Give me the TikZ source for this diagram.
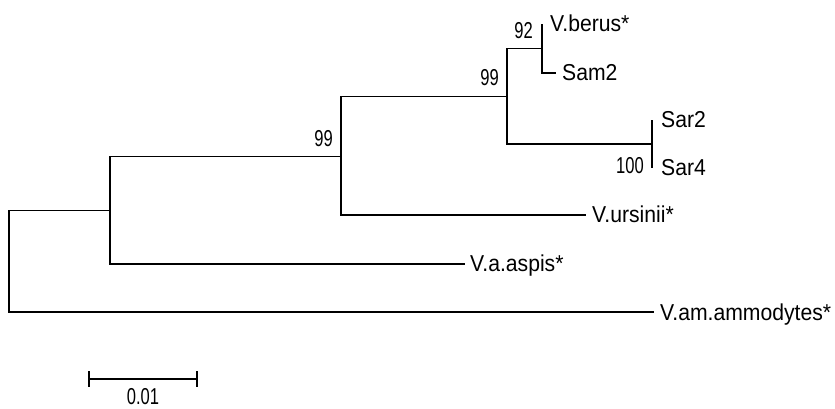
\documentclass[tikz,border=0pt]{standalone}
\usepackage{fontspec}
\setmainfont{Liberation Sans}
\newcommand{\taxfont}{\fontsize{23}{23}\selectfont}
\newcommand{\taxon}[1]{\scalebox{0.92}[1]{#1}}
\newcommand{\boot}[1]{\scalebox{0.72}[1]{#1}}
\begin{document}
\begin{tikzpicture}[x=1pt,y=-1pt,
  br/.style={line width=1.3pt, black, line join=miter},
  tx/.style={anchor=base west, inner sep=0pt, font=\taxfont},
  bs/.style={anchor=base east, inner sep=0pt, font=\taxfont}]
\useasboundingbox (0,0) rectangle (835,408);
% internal nodes
\coordinate (nR) at (9,261);
\coordinate (nA) at (110,210.5);
\coordinate (nB) at (341,156.5);
\coordinate (nC) at (507,96.5);
\coordinate (nD) at (542,48.5);
\coordinate (nE) at (652,144);
% tips
\coordinate (tBer) at (542,24);
\coordinate (tSam) at (556,73);
\coordinate (tSar2) at (652,120);
\coordinate (tSar4) at (652,168);
\coordinate (tUrs) at (586,215);
\coordinate (tAsp) at (465,264);
\coordinate (tAmm) at (654,312);
% branches
\draw[br] (nA) -| (nR |- tAmm) -- (tAmm);
\draw[br] (nB) -| (nA |- tAsp) -- (tAsp);
\draw[br] (nC) -| (nB |- tUrs) -- (tUrs);
\draw[br] (nD) -| (nC |- nE) -- (nE);
\draw[br] (tBer) -- (nD |- tSam) -- (tSam);
\draw[br] (tSar2) -- (tSar4);
% taxon labels
\node[tx] (lBer) at (550,31.5) {\taxon{V.berus*}};
\node[tx] (lSam) at (562,80.5) {\taxon{Sam2}};
\node[tx] (lSar2) at (661,127) {\taxon{Sar2}};
\node[tx] (lSar4) at (661,175) {\taxon{Sar4}};
\node[tx] (lUrs) at (592,222.5) {\taxon{V.ursinii*}};
\node[tx] (lAsp) at (470,271.5) {\taxon{V.a.aspis*}};
\node[tx] (lAmm) at (660,320) {\taxon{V.am.ammodytes*}};
% bootstrap values
\node[bs] (b92) at (533,38) {\boot{92}};
\node[bs] (b99a) at (499,85) {\boot{99}};
\node[bs] (b99b) at (333,146) {\boot{99}};
\node[bs] (b100) at (644,173) {\boot{100}};
% scale bar
\coordinate (sL) at (89,379);
\coordinate (sR) at (197,379);
\draw[br] (sL) -- (sR);
\draw[br] ([yshift=8pt]sL) -- ([yshift=-8pt]sL);
\draw[br] ([yshift=8pt]sR) -- ([yshift=-8pt]sR);
\node[anchor=base, inner sep=0pt, font=\taxfont] (sLab) at (143,404.5) {\boot{0.01}};
\end{tikzpicture}
\end{document}
